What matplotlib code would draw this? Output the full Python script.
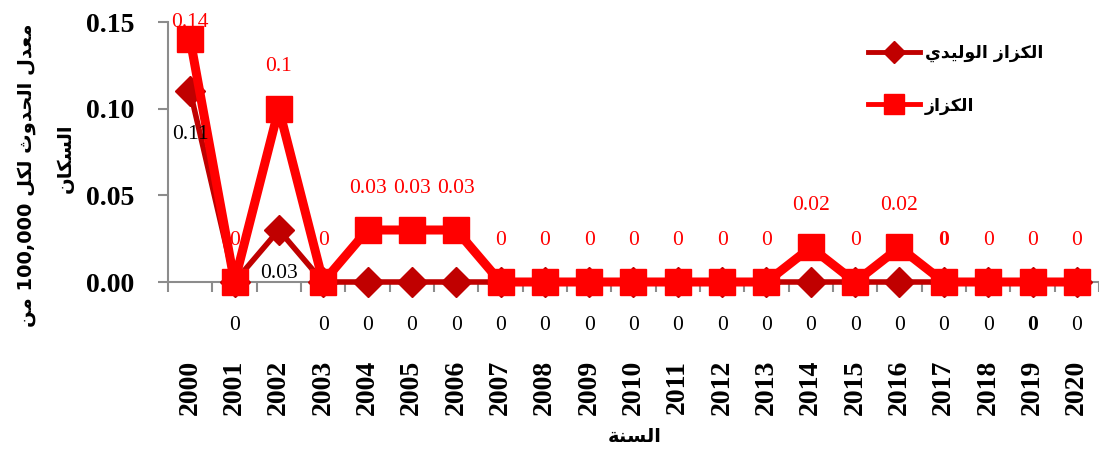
import re
import matplotlib.pyplot as plt

years = [str(y) for y in range(2000, 2021)]
neonatal = [0.11, 0, 0.03, 0, 0, 0, 0, 0, 0, 0, 0, 0, 0, 0, 0, 0, 0, 0, 0, 0, 0]
tetanus = [0.14, 0, 0.1, 0, 0.03, 0.03, 0.03, 0, 0, 0, 0, 0, 0, 0,
           0.02, 0, 0.02, 0, 0, 0, 0]
yticks = [0.00, 0.05, 0.10, 0.15]

name_neonatal = "الكزاز الوليدي"
name_tetanus = "الكزاز"
ylabel_lines = ["معدل الحدوث لكل 100,000 من", "السكان"]
xlabel = "السنة"

# arabic presentation forms: isolated, final, initial, medial
FORMS = {
    'ا': ('\uFE8D', '\uFE8E', None, None),
    'ل': ('\uFEDD', '\uFEDE', '\uFEDF', '\uFEE0'),
    'م': ('\uFEE1', '\uFEE2', '\uFEE3', '\uFEE4'),
    'ع': ('\uFEC9', '\uFECA', '\uFECB', '\uFECC'),
    'د': ('\uFEA9', '\uFEAA', None, None),
    'ح': ('\uFEA1', '\uFEA2', '\uFEA3', '\uFEA4'),
    'و': ('\uFEED', '\uFEEE', None, None),
    'ث': ('\uFE99', '\uFE9A', '\uFE9B', '\uFE9C'),
    'ك': ('\uFED9', '\uFEDA', '\uFEDB', '\uFEDC'),
    'ن': ('\uFEE5', '\uFEE6', '\uFEE7', '\uFEE8'),
    'س': ('\uFEB1', '\uFEB2', '\uFEB3', '\uFEB4'),
    'ي': ('\uFEF1', '\uFEF2', '\uFEF3', '\uFEF4'),
    'ز': ('\uFEAF', '\uFEB0', None, None),
    'ة': ('\uFE93', '\uFE94', None, None),
}


def shape(text):
    out = []
    for i, ch in enumerate(text):
        if ch not in FORMS:
            out.append(ch)
            continue
        prev = text[i - 1] if i > 0 else ''
        nxt = text[i + 1] if i + 1 < len(text) else ''
        jp = prev in FORMS and FORMS[prev][2] is not None
        jn = FORMS[ch][2] is not None and nxt in FORMS
        iso, fin, ini, med = FORMS[ch]
        if jp and jn:
            out.append(med)
        elif jp:
            out.append(fin)
        elif jn:
            out.append(ini)
        else:
            out.append(iso)
    s = ''.join(out)[::-1]
    return re.sub(r'[0-9][0-9,.]*', lambda m: m.group(0)[::-1], s)


SERIF = ['Liberation Serif', 'DejaVu Serif']
ARAB = ['DejaVu Sans']
GRAY = '#8c8c8c'
DARK = '#c00000'
RED = '#ff0000'

fig = plt.figure(figsize=(10.99, 4.53), dpi=100)
ax = fig.add_axes([168 / 1099, 171 / 453, 931 / 1099, 260 / 453])

x = list(range(len(years)))
ax.plot(x, neonatal, color=DARK, linewidth=4, marker='D', markersize=15,
        markeredgecolor=DARK, clip_on=False, zorder=3, label=shape(name_neonatal))
ax.plot(x, tetanus, color=RED, linewidth=6.5, marker='s', markersize=19,
        markeredgecolor=RED, clip_on=False, zorder=4, label=shape(name_tetanus))

bold_red = {17}
bold_black = {19}
for i, v in enumerate(tetanus):
    dy = 12 if i == 0 else 30
    ax.annotate(f"{v:g}", (i, v), xytext=(0, dy), textcoords='offset points',
                ha='center', va='center', color=RED, fontsize=15.5,
                family=SERIF, fontweight='bold' if i in bold_red else 'normal',
                zorder=5, annotation_clip=False)
for i, v in enumerate(neonatal):
    ax.annotate(f"{v:g}", (i, v), xytext=(0, -31), textcoords='offset points',
                ha='center', va='center', color='black', fontsize=15.5,
                family=SERIF, fontweight='bold' if i in bold_black else 'normal',
                zorder=5, annotation_clip=False)

ax.set_xlim(-0.5, len(years) - 0.5)
ax.set_ylim(0, 0.15)
ax.set_yticks(yticks)
ax.set_yticklabels([f"{t:.2f}" for t in yticks], family=SERIF,
                   fontweight='bold', fontsize=20)
ax.set_xticks(x)
ax.set_xticklabels(years, rotation=90, family=SERIF, fontweight='bold',
                   fontsize=20)
ax.set_xticks([i - 0.5 for i in range(len(years) + 1)], minor=True)
ax.tick_params(axis='x', which='major', length=0, pad=56)
ax.tick_params(axis='x', which='minor', length=7, color=GRAY, width=1.5)
ax.tick_params(axis='y', length=7, color=GRAY, width=1.5, pad=17)

for s in ['top', 'right']:
    ax.spines[s].set_visible(False)
for s in ['left', 'bottom']:
    ax.spines[s].set_color(GRAY)
    ax.spines[s].set_linewidth(1.5)

fig.text(27 / 1099, 1 - 175 / 453, shape(ylabel_lines[0]), rotation=90,
         ha='center', va='center', family=ARAB, fontweight='bold', fontsize=14)
fig.text(65 / 1099, 1 - 158 / 453, shape(ylabel_lines[1]), rotation=90,
         ha='center', va='center', family=ARAB, fontweight='bold', fontsize=14)
fig.text(635 / 1099, 1 - 437 / 453, shape(xlabel), ha='center', va='center',
         family=ARAB, fontweight='bold', fontsize=14)

leg = fig.legend(loc='upper left', bbox_to_anchor=(852 / 1099, 1 - 28 / 453),
                 frameon=False, handlelength=3.0, labelspacing=2.0,
                 handletextpad=0.3, prop={'family': ARAB, 'weight': 'bold',
                                          'size': 12.5})
for h in leg.legend_handles:
    h.set_markersize(h.get_markersize() * 0.75)
    h.set_linewidth(3.5)

fig.savefig('out.png', dpi=100)
